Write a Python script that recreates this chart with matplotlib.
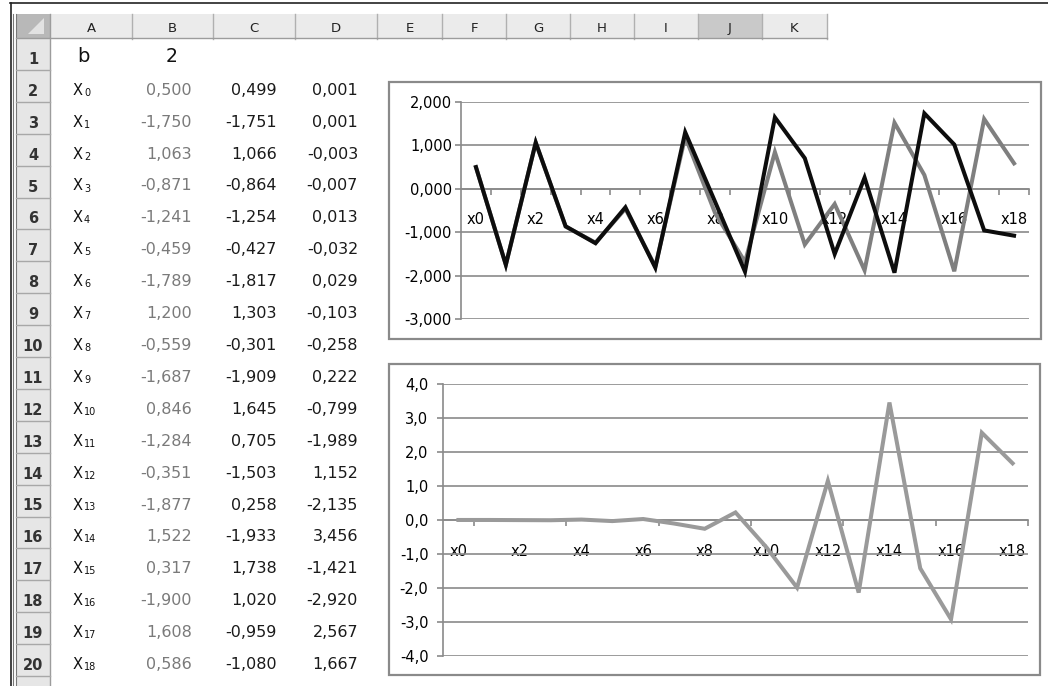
import numpy as np
import matplotlib
matplotlib.use('Agg')
import matplotlib.pyplot as plt
from matplotlib.patches import Rectangle, Polygon
from matplotlib.ticker import FixedLocator, FuncFormatter

# spreadsheet content
b_value = 2
points = ['x0', 'x1', 'x2', 'x3', 'x4', 'x5', 'x6', 'x7', 'x8', 'x9',
          'x10', 'x11', 'x12', 'x13', 'x14', 'x15', 'x16', 'x17', 'x18']
subscripts = ['0', '1', '2', '3', '4', '5', '6', '7', '8', '9',
              '10', '11', '12', '13', '14', '15', '16', '17', '18']
col_b = [0.500, -1.750, 1.063, -0.871, -1.241, -0.459, -1.789, 1.200, -0.559, -1.687,
         0.846, -1.284, -0.351, -1.877, 1.522, 0.317, -1.900, 1.608, 0.586]
col_c = [0.499, -1.751, 1.066, -0.864, -1.254, -0.427, -1.817, 1.303, -0.301, -1.909,
         1.645, 0.705, -1.503, 0.258, -1.933, 1.738, 1.020, -0.959, -1.080]
col_d = [0.001, 0.001, -0.003, -0.007, 0.013, -0.032, 0.029, -0.103, -0.258, 0.222,
         -0.799, -1.989, 1.152, -2.135, 3.456, -1.421, -2.920, 2.567, 1.667]
col_names = ['A', 'B', 'C', 'D', 'E', 'F', 'G', 'H', 'I', 'J', 'K']

W, H = 1048, 686
fig = plt.figure(figsize=(W / 100, H / 100), dpi=100)

# background axes in pixel coords
bg = fig.add_axes([0, 0, 1, 1])
bg.set_xlim(0, W)
bg.set_ylim(H, 0)
bg.axis('off')

ROW_TOP = 38
ROW_H = 31.9
col_edges = [50, 132, 213, 295, 377, 442, 506, 570, 634, 698, 762, 827]

def row_top(r):
    return ROW_TOP + (r - 1) * ROW_H

# window border lines
bg.plot([10, W], [3, 3], color='#222222', lw=1.2)
bg.plot([10.5, 10.5], [3, H], color='#222222', lw=1.2)
bg.plot([13, 13], [14, H], color='#777777', lw=0.8)
bg.plot([15.5, 15.5], [14, H], color='#777777', lw=0.8)

# column header bar
for i, name in enumerate(col_names):
    x0, x1 = col_edges[i], col_edges[i + 1]
    fc = '#c9c9c9' if name == 'J' else '#ebebeb'
    bg.add_patch(Rectangle((x0, 14), x1 - x0, 24, fc=fc, ec='none'))
    bg.plot([x1, x1], [14, 39], color='#b0b0b0', lw=1)
    bg.text((x0 + x1) / 2, 32, name, ha='center', va='baseline', fontsize=9.5, color='#222222')
bg.plot([16, col_edges[-1]], [38, 38], color='#9c9c9c', lw=1)

# corner cell
bg.add_patch(Rectangle((16, 14), 34, 24, fc='#b8b8b8', ec='none'))
bg.add_patch(Polygon([[44, 18], [44, 34], [28, 34]], closed=True, fc='#e2e2e2', ec='none'))
bg.plot([50, 50], [14, H], color='#9c9c9c', lw=1)

# row headers
n_rows = 21
for r in range(1, n_rows + 1):
    top = row_top(r)
    bg.add_patch(Rectangle((16, top), 34, ROW_H, fc='#e6e6e6', ec='none'))
    bg.plot([16, 50], [top + ROW_H, top + ROW_H], color='#a8a8a8', lw=1)
    if r <= 20:
        bg.text(33, top + ROW_H - 6, str(r), ha='center', va='baseline',
                fontsize=10.5, fontweight='bold', color='#333333')

# row 1
bg.text(77, row_top(1) + ROW_H - 8, 'b', ha='left', va='baseline', fontsize=14, color='#111111')
bg.text(172, row_top(1) + ROW_H - 8, str(b_value), ha='center', va='baseline', fontsize=13.5,
        color='#111111')

def fmt3(v):
    return f'{v:.3f}'.replace('.', ',')

for i in range(len(points)):
    r = i + 2
    base = row_top(r) + ROW_H - 7
    bg.text(73, base, 'X', ha='left', va='baseline', fontsize=10.5, color='#111111')
    bg.text(84, base + 1, subscripts[i], ha='left', va='baseline', fontsize=7, color='#111111')
    bg.text(192, base, fmt3(col_b[i]), ha='right', va='baseline', fontsize=11.5, color='#7a7a7a')
    bg.text(277, base, fmt3(col_c[i]), ha='right', va='baseline', fontsize=11.5, color='#1a1a1a')
    bg.text(358, base, fmt3(col_d[i]), ha='right', va='baseline', fontsize=11.5, color='#1a1a1a')

# chart frames
bg.add_patch(Rectangle((389, 82), 1041 - 389, 339 - 82, fc='white', ec='#8a8a8a', lw=1.6))
bg.add_patch(Rectangle((389, 364), 1040 - 389, 675 - 364, fc='white', ec='#8a8a8a', lw=1.6))

def add_plot(x0, x1, y0, y1):
    return fig.add_axes([x0 / W, 1 - y1 / H, (x1 - x0) / W, (y1 - y0) / H])

GRID = '#8a8a8a'
xs = np.arange(len(points))

def style_axes(ax, ymin, ymax, fmt, tick_every, ypad):
    ax.set_facecolor('none')
    ax.set_xlim(-0.5, len(points) - 0.5)
    ax.set_ylim(ymin, ymax)
    ax.set_yticks(np.arange(ymin, ymax + 0.5, 1))
    ax.yaxis.set_major_formatter(FuncFormatter(lambda v, p: fmt.format(v).replace('.', ',')))
    ax.yaxis.grid(True, color=GRID, lw=1.2)
    ax.set_axisbelow(True)
    for s in ['top', 'right']:
        ax.spines[s].set_visible(False)
    ax.spines['left'].set_color(GRID)
    ax.spines['left'].set_linewidth(1.2)
    ax.spines['bottom'].set_position(('data', 0))
    ax.spines['bottom'].set_color(GRID)
    ax.spines['bottom'].set_linewidth(1.2)
    ax.tick_params(axis='y', length=4, width=1.2, color=GRID, pad=ypad, labelsize=10.5)
    ax.set_xticks(xs[::2])
    ax.set_xticklabels(points[::2])
    ax.tick_params(axis='x', which='major', length=0, pad=17, labelsize=10.5)
    ax.xaxis.set_minor_locator(FixedLocator(np.arange(0.5, len(points), tick_every)))
    ax.tick_params(axis='x', which='minor', length=4.5, width=1.2, color=GRID)

# top chart
ax1 = add_plot(461, 1029, 102, 319)
ax1.plot(xs, col_b, color='#7f7f7f', lw=2.9, zorder=3, solid_joinstyle='miter')
ax1.plot(xs, col_c, color='#0d0d0d', lw=2.9, zorder=4, solid_joinstyle='miter')
style_axes(ax1, -3, 2, '{:.3f}', 1, 2.5)

# bottom chart
ax2 = add_plot(443, 1028, 384, 656)
ax2.plot(xs, col_d, color='#9a9a9a', lw=2.9, zorder=3, solid_joinstyle='miter')
style_axes(ax2, -4, 4, '{:.1f}', 3, 6.5)

fig.savefig('out.png', dpi=100)
